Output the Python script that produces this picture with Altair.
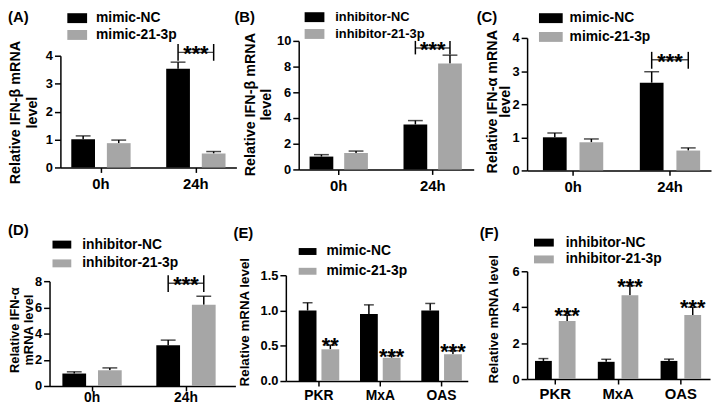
import altair as alt
import pandas as pd

FONT = "Liberation Sans"
BLACK = "#000000"
GRAY = "#a6a6a6"

# ---------------- data ----------------
A_cats = ["0h", "24h"]
A_groups = ["mimic-NC", "mimic-21-3p"]
A_nc = [1.01, 3.53]
A_nc_err = [0.12, 0.24]
A_tr = [0.87, 0.50]
A_tr_err = [0.11, 0.07]
A_bracket = [4.42, 4.12, 3.82]

B_cats = ["0h", "24h"]
B_groups = ["inhibitor-NC", "inhibitor-21-3p"]
B_nc = [1.0, 3.5]
B_nc_err = [0.15, 0.3]
B_tr = [1.28, 8.24]
B_tr_err = [0.15, 0.65]
B_bracket = [10.0, 9.45, 8.95]

C_cats = ["0h", "24h"]
C_groups = ["mimic-NC", "mimic-21-3p"]
C_nc = [1.0, 2.65]
C_nc_err = [0.13, 0.33]
C_tr = [0.85, 0.6]
C_tr_err = [0.1, 0.08]
C_bracket = [3.58, 3.34, 3.07]

D_cats = ["0h", "24h"]
D_groups = ["inhibitor-NC", "inhibitor-21-3p"]
D_nc = [0.95, 3.1]
D_nc_err = [0.13, 0.4]
D_tr = [1.2, 6.2]
D_tr_err = [0.18, 0.65]
D_bracket = [8.45, 7.85, 7.17]

E_cats = ["PKR", "MxA", "OAS"]
E_groups = ["mimic-NC", "mimic-21-3p"]
E_nc = [1.0, 0.95, 1.0]
E_nc_err = [0.11, 0.13, 0.1]
E_tr = [0.45, 0.33, 0.38]
E_tr_err = [0.06, 0.03, 0.05]
E_stars = ["**", "***", "***"]

F_cats = ["PKR", "MxA", "OAS"]
F_groups = ["inhibitor-NC", "inhibitor-21-3p"]
F_nc = [1.01, 0.96, 1.01]
F_nc_err = [0.13, 0.14, 0.1]
F_tr = [3.23, 4.67, 3.56]
F_tr_err = [0.33, 0.53, 0.44]
F_stars = ["***", "***", "***"]

W, H = 712, 400


def panel(cats, groups, nc, nc_err, tr, tr_err, geo, yax, leg, bracket=None, stars=None):
    rows = []
    for i, c in enumerate(cats):
        rows.append(dict(cat=c, grp=groups[0], mean=nc[i], top=nc[i] + nc_err[i]))
        rows.append(dict(cat=c, grp=groups[1], mean=tr[i], top=tr[i] + tr_err[i]))
    df = pd.DataFrame(rows)

    n = len(cats)
    bw = 2 * geo["w"] + geo["g"]
    left = geo["s"] - geo["x0"]
    right = geo["x1"] - (geo["s"] + (n - 1) * geo["st"] + bw)
    pi = 1 - bw / geo["st"]
    po = (left + right) / (2 * geo["st"])
    al = left / (left + right)

    xs = alt.Scale(domain=cats, range=[geo["x0"], geo["x1"]], paddingInner=pi,
                   paddingOuter=po, align=al)
    os_ = alt.Scale(domain=groups, paddingInner=geo["g"] / (geo["w"] + geo["g"]), paddingOuter=0)
    ys = alt.Scale(domain=[0, yax["max"]], range=[geo["y0"], geo["ytop"]], nice=False, zero=True)
    cs = alt.Scale(domain=groups, range=[BLACK, GRAY])

    xaxis = alt.Axis(orient="bottom", offset=geo["y0"] - H, tickSize=5, labelPadding=yax["xpad"],
                     labelFontSize=yax["xlab"], labelAngle=0, labelAlign="center",
                     labelBaseline="top", title=None, grid=False)
    yaxis = alt.Axis(orient="left", offset=-geo["x0"], values=yax["values"], format=yax["fmt"],
                     tickSize=6, labelPadding=2, labelFontSize=13, title=yax["title"],
                     titleFontSize=yax["tsize"], titleX=yax["tx"] - geo["x0"], titleY=yax["ty"],
                     titleAngle=270, titleBaseline="top", titleAlign="center",
                     titleLineHeight=yax["lh"], grid=False)
    r = leg["h"] / leg["w"]
    legend = alt.Legend(orient="none", legendX=leg["x"], legendY=leg["cy"] - leg["w"] / 2,
                        title=None, symbolType=f"M-1,-{r}H1V{r}H-1Z", symbolSize=leg["w"] ** 2,
                        symbolStrokeWidth=0, symbolOpacity=1, labelFontSize=leg["fs"],
                        labelFont=FONT, labelFontWeight="bold", labelColor=BLACK,
                        labelOffset=leg["off"], rowPadding=leg["sp"] - leg["w"], padding=0)

    base = alt.Chart(df)
    bars = base.mark_bar().encode(
        x=alt.X("cat:N", scale=xs, axis=xaxis),
        xOffset=alt.XOffset("grp:N", scale=os_),
        y=alt.Y("mean:Q", scale=ys, axis=yaxis),
        color=alt.Color("grp:N", scale=cs, legend=legend),
    )
    err = base.mark_rule(color=BLACK, strokeWidth=1.5).encode(
        x="cat:N", xOffset="grp:N", y="mean:Q", y2="top:Q")
    cap = base.mark_tick(color=BLACK, thickness=1.5, size=geo["cap"], orient="horizontal").encode(
        x="cat:N", xOffset="grp:N", y="top:Q")
    layers = [err, bars, cap]

    if bracket is not None:
        last = cats[-1]
        bdf = pd.DataFrame(dict(cat=[last, last], grp=groups, btop=[bracket[0]] * 2,
                                bbot=[bracket[2]] * 2))
        mdf = pd.DataFrame(dict(cat=[last], mid=[bracket[1]], lab=["***"]))
        layers.append(alt.Chart(bdf).mark_rule(color=BLACK, strokeWidth=1.5).encode(
            x="cat:N", xOffset="grp:N", y="btop:Q", y2="bbot:Q"))
        layers.append(alt.Chart(mdf).mark_tick(color=BLACK, thickness=1.5,
                                               size=geo["w"] + geo["g"], orient="horizontal").encode(
            x="cat:N", y="mid:Q"))
        layers.append(alt.Chart(mdf).mark_text(font=FONT, fontWeight="bold", fontSize=22,
                                               baseline="alphabetic", dy=9, color=BLACK).encode(
            x="cat:N", y="mid:Q", text="lab:N"))
    if stars is not None:
        sdf = pd.DataFrame(dict(cat=cats, grp=[groups[1]] * n,
                                top=[tr[i] + tr_err[i] for i in range(n)], lab=stars))
        layers.append(alt.Chart(sdf).mark_text(font=FONT, fontWeight="bold", fontSize=22,
                                               baseline="alphabetic", dy=8, color=BLACK).encode(
            x="cat:N", xOffset="grp:N", y="top:Q", text="lab:N"))
    return alt.layer(*layers)


def label(t, x, y):
    return alt.Chart(pd.DataFrame(dict(t=[t]))).mark_text(
        font=FONT, fontWeight="bold", fontSize=15, align="left", baseline="top", color=BLACK
    ).encode(x=alt.value(x), y=alt.value(y), text="t:N")


pA = panel(A_cats, A_groups, A_nc, A_nc_err, A_tr, A_tr_err,
           dict(x0=53, x1=231, s=64, w=24, g=12, st=96, y0=159, ytop=46, cap=15),
           dict(max=4, values=[0, 1, 2, 3, 4], fmt="d", title=["Relative IFN-β mRNA", "level"],
                tsize=14.5, tx=1, ty=103, lh=17, xlab=15, xpad=4),
           dict(x=60, cy=8, w=20, h=10, off=9, sp=17, fs=14), bracket=A_bracket)
pB = panel(B_cats, B_groups, B_nc, B_nc_err, B_tr, B_tr_err,
           dict(x0=294, x1=471, s=305, w=24, g=11, st=95, y0=161, ytop=31, cap=15),
           dict(max=10, values=[0, 2, 4, 6, 8, 10], fmt="d", title=["Relative IFN-β mRNA", "level"],
                tsize=14.5, tx=238, ty=95, lh=16, xlab=15, xpad=4),
           dict(x=300, cy=7, w=20, h=10, off=11, sp=14, fs=13), bracket=B_bracket)
pC = panel(C_cats, C_groups, C_nc, C_nc_err, C_tr, C_tr_err,
           dict(x0=525, x1=711, s=541, w=24, g=13, st=98, y0=162, ytop=28, cap=15),
           dict(max=4, values=[0, 1, 2, 3, 4], fmt="d", title=["Relative IFN-α mRNA", "level"],
                tsize=14.5, tx=483, ty=92, lh=13, xlab=15, xpad=4),
           dict(x=537, cy=8, w=24, h=10, off=7, sp=19, fs=14), bracket=C_bracket)
pD = panel(D_cats, D_groups, D_nc, D_nc_err, D_tr, D_tr_err,
           dict(x0=42, x1=230, s=55, w=24, g=12, st=95, y0=380, ytop=274, cap=15),
           dict(max=8, values=[0, 2, 4, 6, 8], fmt="d", title=["Relative IFN-α", "mRNA level"],
                tsize=13, tx=1, ty=323, lh=14, xlab=14, xpad=0),
           dict(x=45, cy=237, w=19, h=8, off=11, sp=21, fs=14), bracket=D_bracket)
pE = panel(E_cats, E_groups, E_nc, E_nc_err, E_tr, E_tr_err,
           dict(x0=281, x1=465, s=294, w=18, g=5, st=62, y0=375, ytop=268, cap=10),
           dict(max=1.5, values=[0, 0.5, 1.0, 1.5], fmt=".1f", title="Relative mRNA level",
                tsize=13.5, tx=232, ty=315, lh=16, xlab=14, xpad=3),
           dict(x=294, cy=244, w=18, h=7, off=10, sp=22, fs=14), stars=E_stars)
pF = panel(F_cats, F_groups, F_nc, F_nc_err, F_tr, F_tr_err,
           dict(x0=525, x1=710, s=533, w=17, g=7, st=63.5, y0=373, ytop=264, cap=10),
           dict(max=6, values=[0, 2, 4, 6], fmt="d", title="Relative mRNA level",
                tsize=13.5, tx=484, ty=312, lh=16, xlab=15, xpad=3),
           dict(x=532, cy=235, w=20, h=8, off=12, sp=20, fs=14), stars=F_stars)

labels = [label("(A)", 0, 0), label("(B)", 229, 0), label("(C)", 474, 0),
          label("(D)", 0, 215), label("(E)", 228, 218), label("(F)", 477, 218)]

chart = alt.layer(pA, pB, pC, pD, pE, pF, *labels).resolve_scale(
    x="independent", y="independent", xOffset="independent", color="independent"
).resolve_axis(x="independent", y="independent").resolve_legend(color="independent").properties(
    width=W, height=H, padding=0, autosize=alt.AutoSizeParams(type="none"), background="white"
).configure_view(stroke=None).configure_axis(
    domainColor=BLACK, tickColor=BLACK, labelColor=BLACK, titleColor=BLACK,
    domainWidth=1.5, tickWidth=1.5, labelFont=FONT, titleFont=FONT,
    labelFontWeight="bold", titleFontWeight="bold"
)

chart.save("out.html", embed_options={"renderer": "svg", "actions": False})
